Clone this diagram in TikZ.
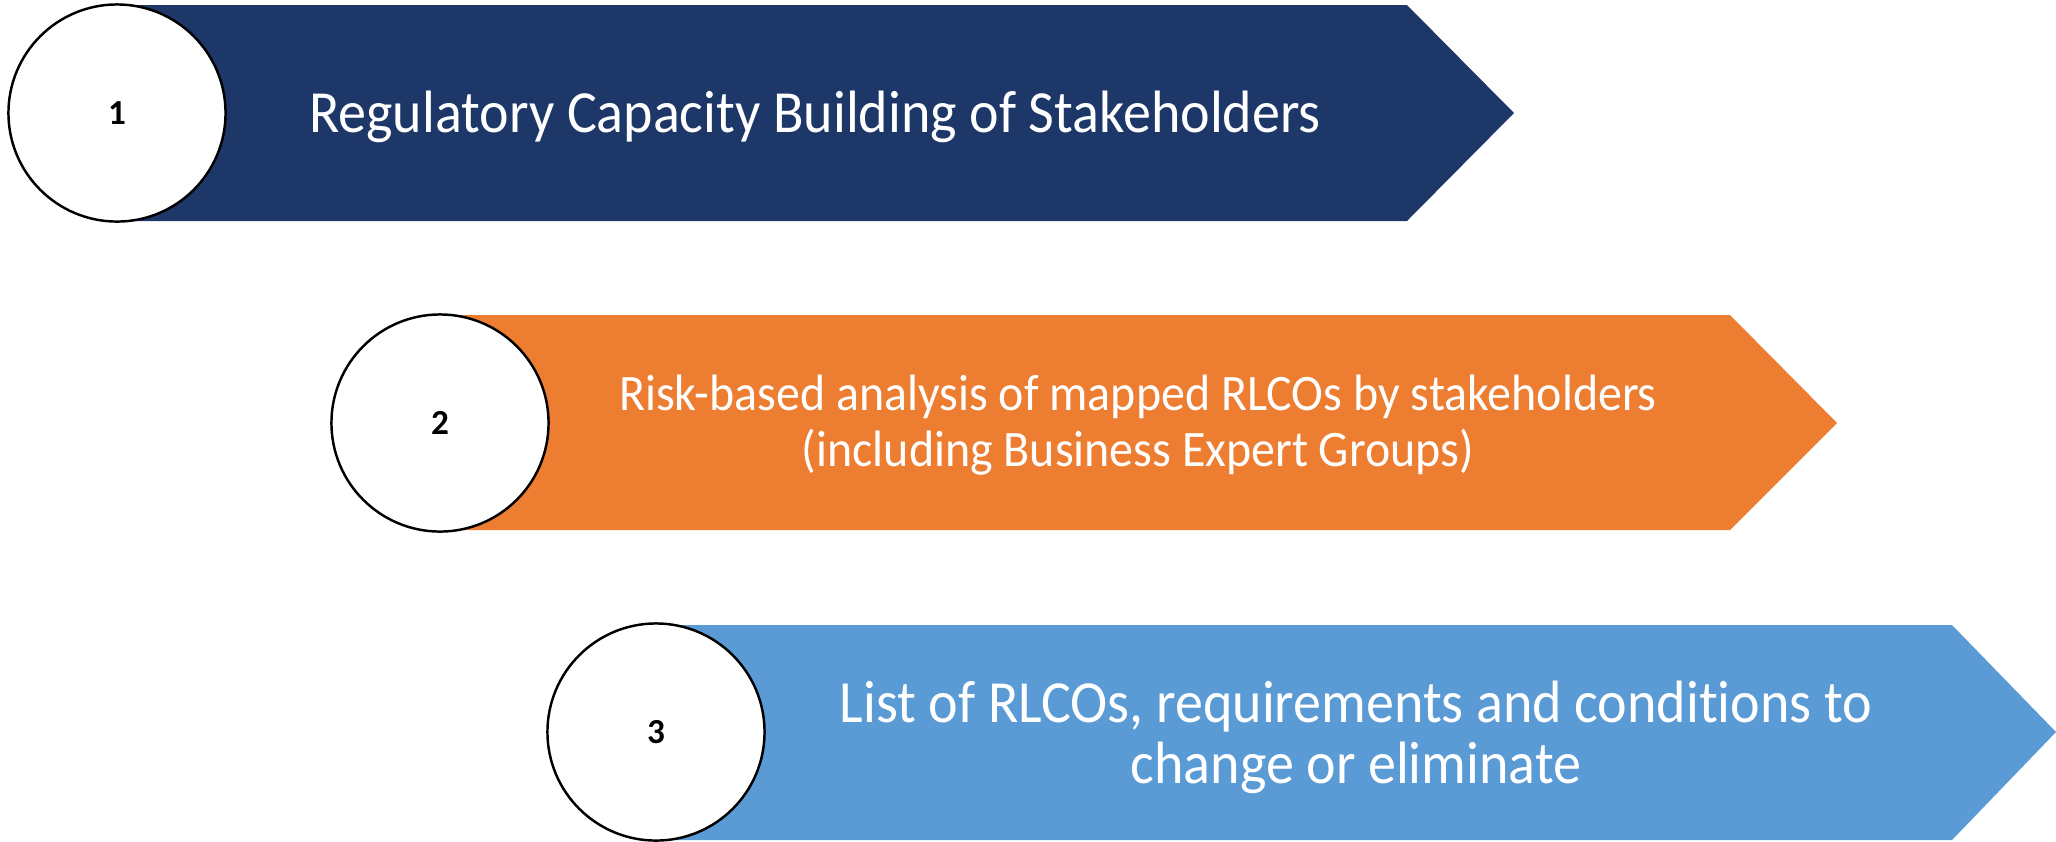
\documentclass[tikz,border=0pt]{standalone}
\usepackage{fontspec}
\setmainfont{Carlito}[Ligatures=NoCommon]
\newfontfamily\stepfont{Carlito}[Ligatures=NoCommon,FakeStretch=0.937]
\definecolor{stepnavy}{HTML}{1E3769}
\definecolor{steporange}{HTML}{ED7D31}
\definecolor{stepblue}{HTML}{5B9BD5}
\begin{document}
\begin{tikzpicture}[x=0.01cm,y=-0.01cm,
	stepnum/.style={circle,draw=black,line width=0.7pt,fill=white,minimum size=2.17cm,inner sep=0pt,font=\fontsize{10}{12}\selectfont\bfseries},
	steptext/.style={text=white,align=center,inner sep=0pt}]
	\useasboundingbox (0,0) rectangle (2056,841);
	\fill[color=stepnavy] (118,5)--(1407,5)--(1514,113)--(1407,221)--(118,221)--cycle;
	\fill[color=steporange] (440,315)--(1730,315)--(1837,423)--(1730,530)--(440,530)--cycle;
	\fill[color=stepblue] (656,625)--(1952,625)--(2056,732)--(1952,840)--(656,840)--cycle;
	
	\node[stepnum] (c1) at (117,113) {1};
	\node[stepnum] (c2) at (440,423) {2};
	\node[stepnum] (c3) at (656,732) {3};
	
	\node[steptext,font=\stepfont\fontsize{17}{21}\selectfont] (t1) at (815,117) {Regulatory Capacity Building of Stakeholders};
	\node[steptext,font=\stepfont\fontsize{14.55}{16}\selectfont] (t2) at (1138,425) {Risk-based analysis of mapped RLCOs by stakeholders\\(including Business Expert Groups)};
	\node[steptext,font=\stepfont\fontsize{17}{17.4}\selectfont] (t3) at (1356,737) {List of RLCOs, requirements and conditions to\\change or eliminate};
	
\end{tikzpicture}
\end{document}
